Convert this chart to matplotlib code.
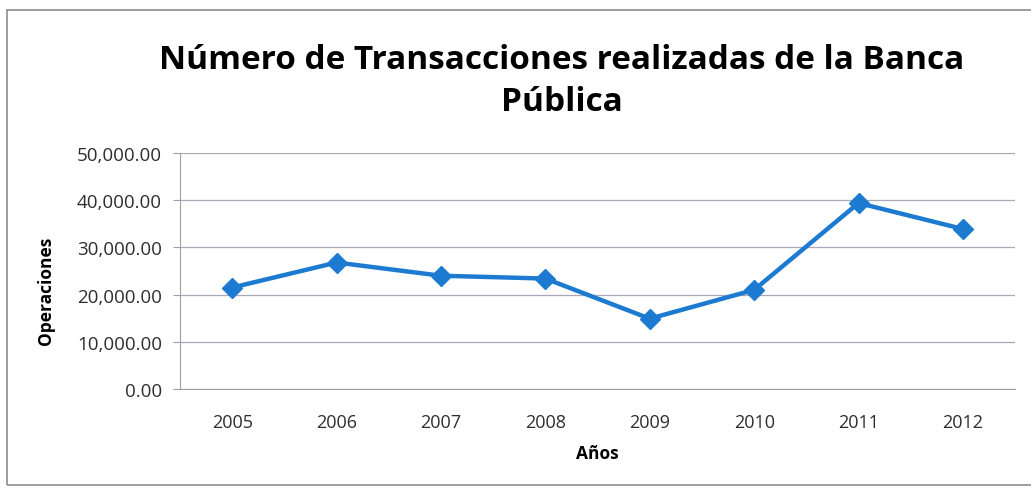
import matplotlib.pyplot as plt
from matplotlib.patches import Rectangle
from matplotlib.ticker import FuncFormatter

years = ['2005', '2006', '2007', '2008', '2009', '2010', '2011', '2012']
operaciones = [21500, 26800, 24000, 23400, 14900, 21000, 39400, 33900]

plt.rcParams['font.family'] = ['Open Sans', 'DejaVu Sans']

fig = plt.figure(figsize=(10.31, 4.89), dpi=100)
ax = fig.add_axes([0.1746, 0.2025, 0.81, 0.4825])

# outer chart frame
fig.patches.append(Rectangle((7 / 1031, 1 - 486 / 489), 1.05, (486 - 11) / 489,
                             transform=fig.transFigure, fill=False,
                             edgecolor='#8c8c8c', linewidth=1.2))

x = list(range(len(years)))
ax.plot(x, operaciones, color='#1c7bd0', linewidth=3.2, marker='D',
        markersize=10, markerfacecolor='#1c7bd0', markeredgecolor='#1c7bd0',
        zorder=3)

ax.set_xlim(-0.5, len(years) - 0.5)
ax.set_ylim(0, 50000)
ax.set_yticks(range(0, 50001, 10000))
ax.yaxis.set_major_formatter(FuncFormatter(lambda v, p: '{:,.2f}'.format(v)))
ax.set_xticks(x)
ax.set_xticklabels(years)

ax.grid(axis='y', color='#a8a8b8', linewidth=0.9)
ax.set_axisbelow(True)
for side in ['top', 'right']:
    ax.spines[side].set_visible(False)
ax.spines['left'].set_color('#a0a0a0')
ax.spines['bottom'].set_color('#a0a0a0')
ax.tick_params(axis='y', length=5, color='#a0a0a0', labelsize=13.5,
               labelcolor='#2e2e2e', pad=8)
ax.tick_params(axis='x', length=0, labelsize=13, labelcolor='#2e2e2e', pad=17)

ax.set_ylabel('Operaciones', fontsize=12.5, fontweight='bold')
ax.yaxis.set_label_coords(-0.150, 0.42)
ax.set_xlabel('Años', fontsize=12.5, fontweight='bold', labelpad=10)

fig.text(0.545, 0.877, 'Número de Transacciones realizadas de la Banca',
         ha='center', va='center', fontsize=24, fontweight='bold')
fig.text(0.545, 0.79, 'Pública', ha='center', va='center',
         fontsize=24, fontweight='bold')

fig.savefig('out.png', dpi=100)
